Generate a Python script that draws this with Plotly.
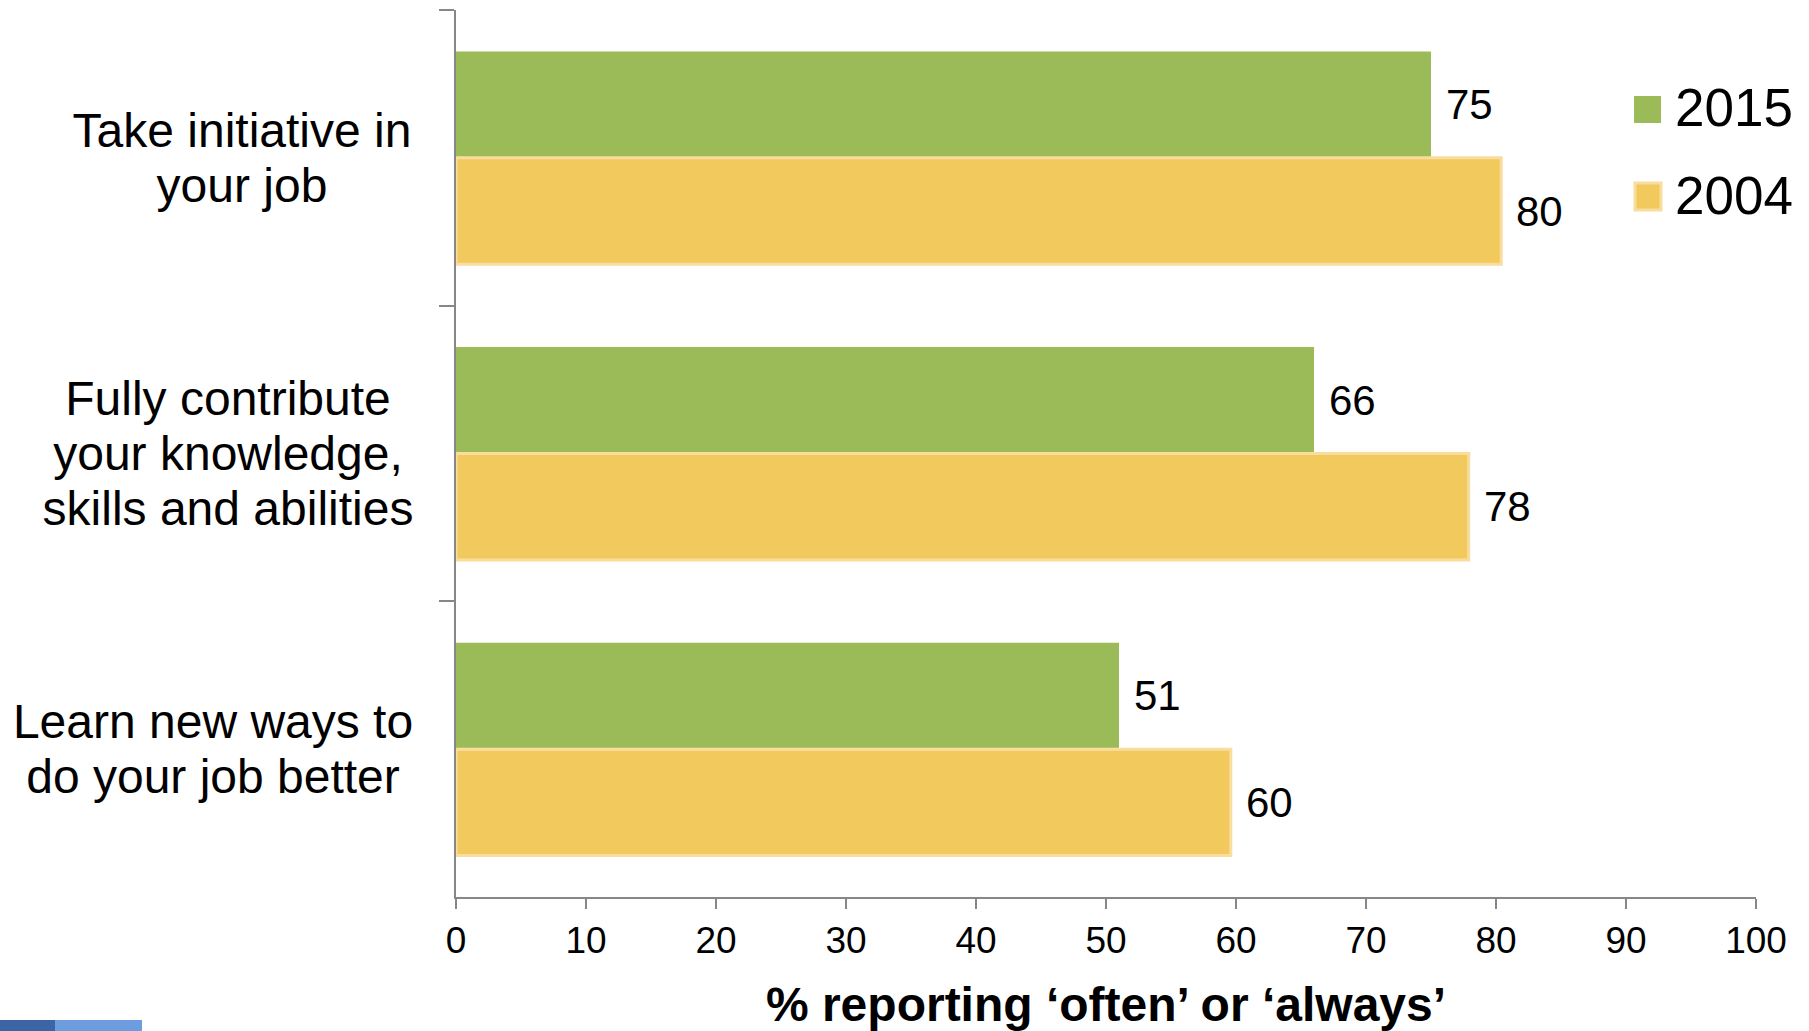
import plotly.graph_objects as go

# ---------------- data ----------------
categories = [
    "Take initiative in<br>your job",
    "Fully contribute<br>your knowledge,<br>skills and abilities",
    "Learn new ways to<br>do your job better",
]
series_names = ["2015", "2004"]
values_2015 = [75.0, 66.0, 51.0]
values_2004 = [80.4, 77.9, 59.6]
x_tick_values = [0, 10, 20, 30, 40, 50, 60, 70, 80, 90, 100]
x_title = "% reporting ‘often’ or ‘always’"

# ---------------- style ----------------
GREEN = "#9BBB59"
YELLOW = "#F2C95C"
YELLOW_EDGE = "#F9DD9E"
AXIS = "#878787"
FONT = "Liberation Sans, Arial, sans-serif"

W, H = 1809, 1031
ML, MR, MT, MB = 456, 53, 10, 134
PW, PH = W - ML - MR, H - MT - MB

LABEL_BOX_W = [344, 372, 402]   # text block widths of the category labels (px)
LABEL_LINE_PX = 55              # line spacing of the category labels (px)


def px_x(px):
    return (px - ML) / PW


def px_y(py):
    return (H - MB - py) / PH


fig = go.Figure()
fig.add_trace(go.Bar(
    y=categories, x=values_2015, orientation="h", name=series_names[0],
    marker=dict(color=GREEN, line=dict(width=0)), showlegend=False,
))
fig.add_trace(go.Bar(
    y=categories, x=values_2004, orientation="h", name=series_names[1],
    marker=dict(color=YELLOW, line=dict(color=YELLOW_EDGE, width=3)), showlegend=False,
))

annotations = []
# data labels
BAR_HALF = 0.18
for vals, off in ((values_2015, -BAR_HALF), (values_2004, BAR_HALF)):
    for i, v in enumerate(vals):
        annotations.append(dict(
            x=v, y=i + off, xref="x", yref="y", text=f"{v:.0f}",
            xanchor="left", yanchor="middle", xshift=13, showarrow=False,
            font=dict(family=FONT, size=42, color="black"),
        ))
# category labels (one annotation per line, centred inside a fixed-width box)
for c, bw in zip(categories, LABEL_BOX_W):
    lines = c.split("<br>")
    n = len(lines)
    for k, line in enumerate(lines):
        annotations.append(dict(
            x=0, y=c, xref="paper", yref="y", text=line, align="center",
            width=bw, xanchor="right", yanchor="middle", xshift=-40,
            yshift=((n - 1) / 2 - k) * LABEL_LINE_PX, showarrow=False,
            font=dict(family=FONT, size=48, color="black"),
        ))
# legend
legend_rows = [(series_names[0], GREEN, None, 96, 123, 108),
               (series_names[1], YELLOW, YELLOW_EDGE, 183, 210, 195)]
shapes = []
for name, col, edge, y0, y1, yc in legend_rows:
    shapes.append(dict(
        type="rect", xref="paper", yref="paper",
        x0=px_x(1634 if edge is None else 1635), x1=px_x(1661),
        y0=px_y(y1), y1=px_y(y0), fillcolor=col,
        line=dict(width=3 if edge else 0, color=edge if edge else col),
    ))
    annotations.append(dict(
        x=px_x(1673), y=px_y(yc), xref="paper", yref="paper", text=name,
        xanchor="left", yanchor="middle", showarrow=False,
        font=dict(family=FONT, size=53, color="black"),
    ))

# slide artefact bottom-left
shapes.append(dict(type="rect", xref="paper", yref="paper", x0=px_x(0), x1=px_x(55),
                   y0=px_y(1031), y1=px_y(1020), fillcolor="#3C65A6", line=dict(width=0)))
shapes.append(dict(type="rect", xref="paper", yref="paper", x0=px_x(55), x1=px_x(142),
                   y0=px_y(1031), y1=px_y(1020), fillcolor="#6D9DDF", line=dict(width=0)))

fig.update_layout(
    width=W, height=H, autosize=False,
    margin=dict(l=ML, r=MR, t=MT, b=MB, pad=0),
    paper_bgcolor="white", plot_bgcolor="white",
    barmode="group", bargap=0.28, bargroupgap=0,
    annotations=annotations, shapes=shapes,
    font=dict(family=FONT, color="black"),
    xaxis=dict(
        range=[0, 100], tickvals=x_tick_values, ticks="outside", ticklen=10,
        tickwidth=1.5, tickcolor=AXIS, showline=True, linecolor=AXIS, linewidth=1.5,
        showgrid=False, zeroline=False,
        tickfont=dict(family=FONT, size=37, color="black"),
        title=dict(text="<b>" + x_title + "</b>", standoff=27,
                   font=dict(family=FONT, size=48, color="black")),
    ),
    yaxis=dict(
        autorange="reversed", type="category", showticklabels=False,
        ticks="outside", ticklen=15, tickwidth=1.5, tickcolor=AXIS, tickson="boundaries",
        showline=True, linecolor=AXIS, linewidth=1.5, showgrid=False, zeroline=False,
    ),
)

fig.write_html("out.html")
